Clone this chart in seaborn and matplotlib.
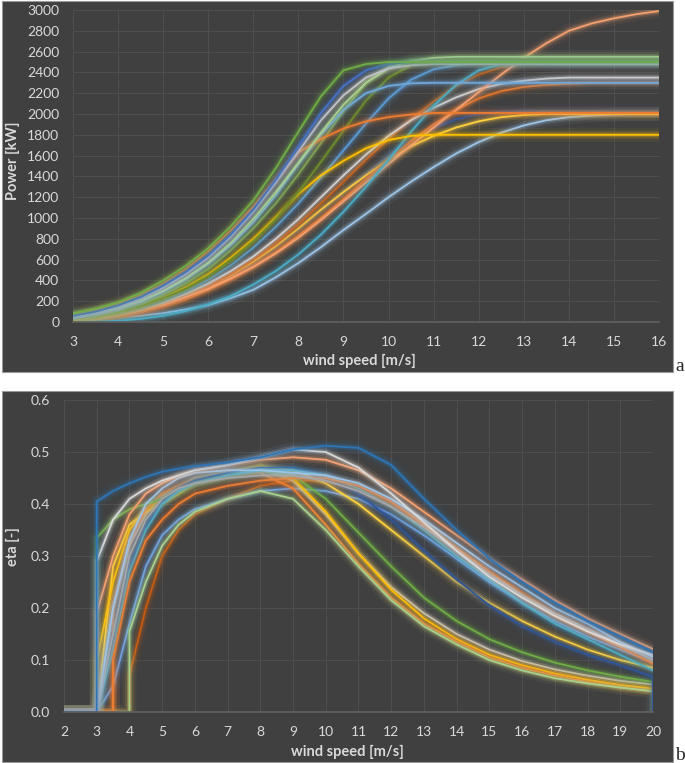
import pandas as pd
import seaborn as sns
import matplotlib.pyplot as plt
import matplotlib.patheffects as pe
from matplotlib.patches import Rectangle

# ---- power curves (kW) at 0.5 m/s steps ----
ws_power = [3, 3.5, 4, 4.5, 5, 5.5, 6, 6.5, 7, 7.5, 8, 8.5, 9, 9.5, 10, 10.5,
            11, 11.5, 12, 12.5, 13, 13.5, 14, 14.5, 15, 15.5, 16]

p_green = [85, 130, 190, 280, 400, 540, 710, 920, 1170, 1480, 1830, 2170, 2420, 2480, 2500,
           2500, 2500, 2500, 2500, 2500, 2500, 2500, 2500, 2500, 2500, 2500, 2500]
p_blue = [60, 100, 160, 240, 350, 480, 640, 840, 1080, 1370, 1690, 2010, 2270, 2420, 2480, 2500,
          2500, 2500, 2500, 2500, 2500, 2500, 2500, 2500, 2500, 2500, 2500]
p_white = [50, 90, 145, 225, 330, 460, 620, 820, 1060, 1340, 1640, 1940, 2180, 2350, 2440, 2470, 2480,
           2480, 2480, 2480, 2480, 2480, 2480, 2480, 2480, 2480, 2480]
p_orange2000 = [70, 115, 175, 260, 370, 510, 680, 880, 1110, 1370, 1630, 1760, 1860, 1930, 1970, 1995, 2010,
                2010, 2010, 2010, 2010, 2010, 2010, 2010, 2010, 2010, 2010]
p_sky2300 = [40, 75, 125, 195, 290, 410, 560, 740, 960, 1220, 1520, 1800, 2040, 2200, 2270, 2295, 2300,
             2300, 2300, 2300, 2300, 2300, 2300, 2300, 2300, 2300, 2300]
p_olive = [30, 60, 105, 170, 260, 370, 510, 690, 900, 1140, 1420, 1720, 2030, 2300, 2450, 2500, 2510,
           2510, 2510, 2510, 2510, 2510, 2510, 2510, 2510, 2510, 2510]
p_olive2 = [35, 60, 100, 155, 230, 320, 440, 590, 770, 990, 1250, 1540, 1840, 2130, 2350, 2470, 2510, 2520,
            2520, 2520, 2520, 2520, 2520, 2520, 2520, 2520, 2520]
p_yellow1800 = [20, 50, 95, 155, 235, 335, 460, 620, 800, 1010, 1230, 1410, 1550, 1670, 1750, 1790, 1800,
                1800, 1800, 1800, 1800, 1800, 1800, 1800, 1800, 1800, 1800]
p_cyan = [0, 3, 12, 30, 60, 105, 170, 250, 360, 490, 650, 840, 1060, 1300, 1560, 1830, 2080, 2280, 2420,
          2480, 2500, 2500, 2500, 2500, 2500, 2500, 2500]
p_blue2 = [25, 50, 85, 135, 205, 295, 405, 545, 715, 915, 1140, 1390, 1650, 1910, 2150, 2330, 2430, 2470,
           2490, 2490, 2490, 2490, 2490, 2490, 2490, 2490, 2490]
p_salmon3000 = [10, 25, 60, 110, 165, 240, 320, 420, 530, 660, 810, 980, 1160, 1340, 1520, 1700, 1870,
                2040, 2210, 2380, 2540, 2680, 2800, 2870, 2920, 2960, 2990]
p_orange2300 = [5, 20, 50, 95, 150, 220, 310, 410, 530, 670, 830, 1000, 1180, 1370, 1560, 1740, 1900,
                2040, 2150, 2220, 2260, 2280, 2290, 2300, 2300, 2300, 2300]
p_white2350 = [15, 35, 70, 120, 185, 270, 370, 490, 630, 800, 990, 1200, 1410, 1610, 1790, 1940, 2060,
               2160, 2240, 2290, 2320, 2340, 2350, 2350, 2350, 2350, 2350]
p_yellow2000 = [10, 30, 65, 110, 170, 245, 340, 450, 580, 730, 900, 1080, 1250, 1410, 1560, 1690, 1790,
                1870, 1930, 1970, 1990, 2000, 2000, 2000, 2000, 2000, 2000]
p_sky_low = [0, 15, 38, 60, 85, 120, 163, 230, 310, 430, 567, 720, 885, 1040, 1200, 1350, 1490,
             1620, 1730, 1820, 1890, 1940, 1970, 1985, 1995, 2000, 2000]
p_navy2030 = [10, 30, 60, 105, 160, 235, 330, 440, 570, 720, 890, 1070, 1250, 1430, 1600, 1750, 1870,
              1950, 2000, 2020, 2030, 2030, 2030, 2030, 2030, 2030, 2030]
p_orange2500 = [0, 5, 45, 100, 160, 240, 340, 460, 600, 760, 940, 1140, 1350, 1560, 1760, 1950, 2120,
                2270, 2380, 2450, 2490, 2500, 2500, 2500, 2500, 2500, 2500]
p_lime2550 = [50, 85, 135, 205, 300, 420, 570, 760, 990, 1250, 1530, 1820, 2090, 2300, 2440, 2510, 2540, 2550,
              2550, 2550, 2550, 2550, 2550, 2550, 2550, 2550, 2550]

power_curves = {
    "sky_low": (p_sky_low, "#9DC3E6"),
    "navy2030": (p_navy2030, "#2F5597"),
    "yellow2000": (p_yellow2000, "#FFD23F"),
    "orange2300": (p_orange2300, "#E0742A"),
    "orange2500": (p_orange2500, "#C55A11"),
    "white2350": (p_white2350, "#D0CECE"),
    "salmon3000": (p_salmon3000, "#F4A070"),
    "cyan": (p_cyan, "#4BACC6"),
    "blue2": (p_blue2, "#5B9BD5"),
    "yellow1800": (p_yellow1800, "#FFC000"),
    "olive2": (p_olive2, "#6E8B2E"),
    "olive": (p_olive, "#7FA04A"),
    "sky2300": (p_sky2300, "#6FA8DC"),
    "orange2000": (p_orange2000, "#ED7D31"),
    "lime2550": (p_lime2550, "#A9D18E"),
    "white": (p_white, "#C9C9C9"),
    "blue": (p_blue, "#4472C4"),
    "green": (p_green, "#70AD47"),
}

# ---- efficiency curves (-) ----
ws_eta = [2, 3, 3, 3.5, 3.5, 4, 4, 4.5, 5, 5.5, 6, 7, 8, 9, 10, 11, 12, 13, 14, 15, 16, 17, 18, 19, 20, 20]

e_blue = [0, 0, 0.405, 0.425, 0.425, 0.44, 0.44, 0.452, 0.462, 0.468, 0.473, 0.48, 0.49, 0.505, 0.512, 0.508,
          0.475, 0.41, 0.35, 0.295, 0.25, 0.21, 0.175, 0.145, 0.115, 0.115]
e_white = [0, 0, 0.29, 0.37, 0.37, 0.41, 0.41, 0.43, 0.445, 0.455, 0.465, 0.475, 0.49, 0.505, 0.50, 0.47,
           0.42, 0.365, 0.31, 0.26, 0.22, 0.185, 0.155, 0.13, 0.11, 0.11]
e_orange = [0, 0, 0.19, 0.30, 0.30, 0.38, 0.38, 0.42, 0.44, 0.455, 0.465, 0.475, 0.485, 0.49, 0.485, 0.465,
            0.43, 0.385, 0.34, 0.295, 0.255, 0.215, 0.18, 0.15, 0.121, 0.121]
e_sky = [0, 0, 0, 0.2, 0.2, 0.33, 0.33, 0.40, 0.43, 0.45, 0.46, 0.465, 0.465, 0.46, 0.455, 0.44,
         0.41, 0.37, 0.325, 0.28, 0.24, 0.2, 0.17, 0.135, 0.106, 0.106]
e_gray = [0, 0, 0, 0.15, 0.15, 0.3, 0.3, 0.37, 0.41, 0.43, 0.44, 0.45, 0.455, 0.455, 0.445, 0.425,
          0.395, 0.355, 0.31, 0.265, 0.225, 0.19, 0.16, 0.13, 0.10, 0.10]
e_orange2 = [0, 0, 0, 0, 0.10, 0.25, 0.25, 0.33, 0.37, 0.40, 0.42, 0.435, 0.445, 0.45, 0.45, 0.435,
             0.405, 0.36, 0.315, 0.27, 0.225, 0.185, 0.155, 0.125, 0.093, 0.093]
e_cyan = [0, 0, 0, 0.12, 0.12, 0.27, 0.27, 0.35, 0.40, 0.425, 0.44, 0.455, 0.465, 0.465, 0.455, 0.43,
          0.395, 0.35, 0.30, 0.255, 0.21, 0.17, 0.14, 0.11, 0.08, 0.08]
e_navy = [0, 0, 0, 0.14, 0.14, 0.28, 0.28, 0.36, 0.405, 0.43, 0.445, 0.46, 0.47, 0.47, 0.455, 0.42,
          0.37, 0.31, 0.255, 0.205, 0.165, 0.135, 0.11, 0.09, 0.067, 0.0]
e_lime = [0, 0, 0, 0, 0, 0, 0.155, 0.25, 0.32, 0.36, 0.385, 0.41, 0.425, 0.41, 0.35, 0.28,
          0.215, 0.165, 0.13, 0.10, 0.08, 0.065, 0.055, 0.047, 0.04, 0.0]
e_green = [0, 0, 0.335, 0.37, 0.37, 0.39, 0.39, 0.40, 0.41, 0.425, 0.44, 0.455, 0.465, 0.455, 0.41, 0.345,
           0.28, 0.22, 0.175, 0.14, 0.115, 0.095, 0.08, 0.068, 0.058, 0.058]
e_orange3 = [0, 0, 0, 0, 0.2, 0.33, 0.33, 0.39, 0.42, 0.435, 0.445, 0.455, 0.46, 0.43, 0.36, 0.285,
             0.22, 0.17, 0.135, 0.105, 0.085, 0.07, 0.058, 0.048, 0.04, 0.04]
e_yellow = [0, 0, 0.10, 0.25, 0.25, 0.35, 0.35, 0.39, 0.41, 0.425, 0.44, 0.455, 0.47, 0.45, 0.385, 0.305,
            0.235, 0.18, 0.14, 0.11, 0.09, 0.074, 0.062, 0.052, 0.045, 0.045]
e_yellow2 = [0, 0, 0, 0.28, 0.28, 0.36, 0.36, 0.385, 0.40, 0.42, 0.44, 0.46, 0.473, 0.465, 0.44, 0.40,
             0.35, 0.30, 0.25, 0.21, 0.175, 0.145, 0.12, 0.10, 0.085, 0.085]
e_silver = [0, 0, 0, 0.2, 0.2, 0.32, 0.32, 0.38, 0.415, 0.435, 0.45, 0.46, 0.47, 0.445, 0.38, 0.305,
            0.24, 0.19, 0.15, 0.12, 0.098, 0.082, 0.07, 0.06, 0.053, 0.053]
e_blue2 = [0, 0, 0, 0.05, 0.05, 0.17, 0.17, 0.28, 0.34, 0.37, 0.39, 0.41, 0.425, 0.43, 0.425, 0.41,
           0.38, 0.34, 0.295, 0.25, 0.21, 0.175, 0.145, 0.12, 0.095, 0.095]
e_rust = [0, 0, 0, 0, 0, 0, 0.07, 0.2, 0.3, 0.35, 0.38, 0.41, 0.435, 0.445, 0.445, 0.43,
          0.40, 0.36, 0.315, 0.27, 0.23, 0.19, 0.16, 0.13, 0.10, 0.10]

eta_curves = {
    "rust": (e_rust, "#C55A11"),
    "blue2": (e_blue2, "#6F9FE0"),
    "silver": (e_silver, "#BFBFBF"),
    "yellow2": (e_yellow2, "#FFD23F"),
    "yellow": (e_yellow, "#FFC000"),
    "orange3": (e_orange3, "#F08030"),
    "green": (e_green, "#70AD47"),
    "lime": (e_lime, "#A9D18E"),
    "navy": (e_navy, "#2F5597"),
    "cyan": (e_cyan, "#4BACC6"),
    "orange2": (e_orange2, "#ED7D31"),
    "gray": (e_gray, "#A5A5A5"),
    "sky": (e_sky, "#9DC3E6"),
    "orange": (e_orange, "#F4A070"),
    "white": (e_white, "#D9D9D9"),
    "blue": (e_blue, "#2E75B6"),
}


def long_form(xs, curves, col):
    rows = []
    for name, (vals, _) in curves.items():
        for i, (x, v) in enumerate(zip(xs, vals)):
            rows.append({"curve": name, "order": i, "ws": x, col: v})
    return pd.DataFrame(rows)


df_p = long_form(ws_power, power_curves, "P")
df_e = long_form(ws_eta, eta_curves, "eta")

sns.set_theme(style="dark")
plt.rcParams["font.family"] = ["Lato", "DejaVu Sans"]

BG = "#404040"
TXT = "#D9D9D9"
GRID = "#4E4E4E"

fig = plt.figure(figsize=(6.85, 7.63), dpi=100)
fig.patch.set_facecolor("white")

# panel frames
for b in (0.5124, 0.0013):
    fig.add_artist(Rectangle((0.0029, b), 0.9796, 0.486, transform=fig.transFigure,
                             facecolor=BG, edgecolor="#9a9a9a", lw=0.8, zorder=0))

ax1 = fig.add_axes([0.1066, 0.578, 0.8555, 0.4089])
ax2 = fig.add_axes([0.0934, 0.0668, 0.8599, 0.4089])

glow = [pe.Stroke(linewidth=10, alpha=0.06), pe.Stroke(linewidth=6, alpha=0.12),
        pe.Stroke(linewidth=3.5, alpha=0.25), pe.Normal()]


def draw(ax, df, col, curves):
    pal = {k: c for k, (_, c) in curves.items()}
    sns.lineplot(data=df, x="ws", y=col, hue="curve", hue_order=list(curves.keys()),
                 palette=pal, estimator=None, sort=False, legend=False, ax=ax,
                 linewidth=1.3)
    for ln in ax.get_lines():
        ln.set_path_effects(glow)
        ln.set_solid_joinstyle("round")
        ln.set_solid_capstyle("round")
    ax.set_facecolor(BG)
    ax.grid(True, color=GRID, lw=0.8)
    for s in ax.spines.values():
        s.set_visible(False)
    ax.spines["bottom"].set_visible(True)
    ax.spines["bottom"].set_color("#606060")
    ax.tick_params(colors=TXT, labelsize=10, length=0)
    ax.tick_params(axis="x", pad=10)
    ax.tick_params(axis="y", pad=10)
    ax.set_xlabel("")
    ax.set_ylabel("")


draw(ax1, df_p, "P", power_curves)
ax1.set_xlim(3, 16)
ax1.set_ylim(0, 3000)
ax1.set_xticks(range(3, 17))
ax1.set_yticks(range(0, 3001, 200))

draw(ax2, df_e, "eta", eta_curves)
ax2.set_xlim(2, 20)
ax2.set_ylim(0, 0.6)
ax2.set_xticks(range(2, 21))
ax2.set_yticks([0.0, 0.1, 0.2, 0.3, 0.4, 0.5, 0.6])
ax2.set_yticklabels(["0.0", "0.1", "0.2", "0.3", "0.4", "0.5", "0.6"])

lab = dict(color=TXT, fontsize=10.5, fontweight="bold", ha="center", va="center")
fig.text(0.524, 0.527, "wind speed [m/s]", **lab)
fig.text(0.019, 0.789, "Power [kW]", rotation=90, **lab)
fig.text(0.507, 0.0144, "wind speed [m/s]", **lab)
fig.text(0.019, 0.284, "eta [-]", rotation=90, **lab)

fig.text(0.986, 0.5135, "a", family="Liberation Serif", fontsize=14, va="baseline", ha="left")
fig.text(0.986, 0.004, "b", family="Liberation Serif", fontsize=14, va="baseline", ha="left")

fig.savefig("out.png", dpi=100)
